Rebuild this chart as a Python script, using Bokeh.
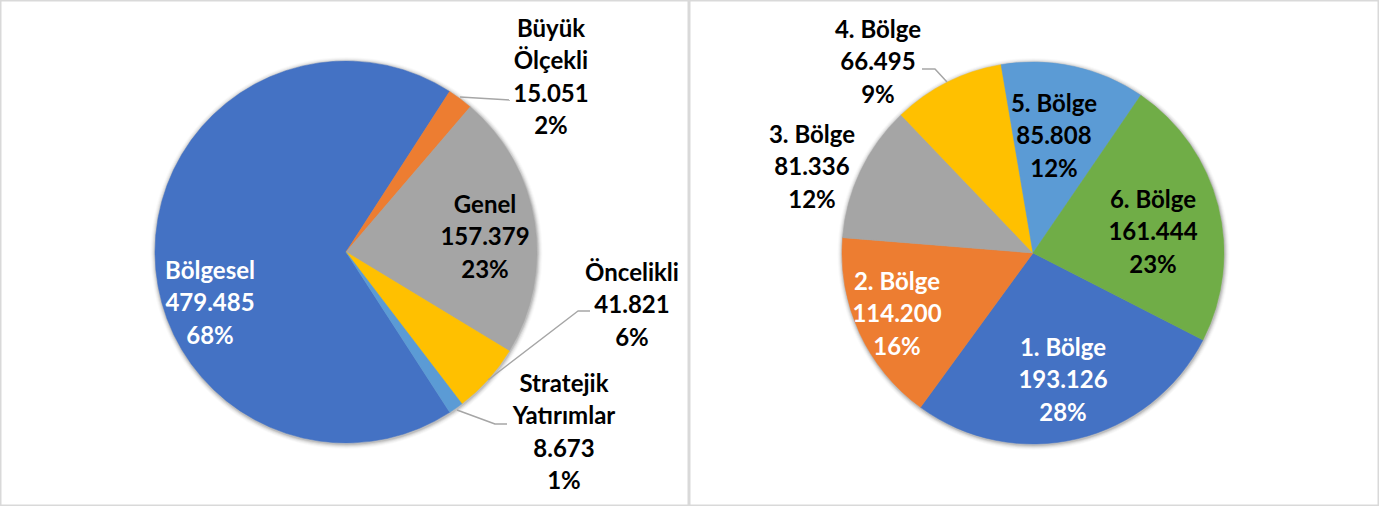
import math
from bokeh.plotting import figure
from bokeh.models import Range1d, ColumnDataSource
from bokeh.layouts import row
from bokeh.core.properties import value
from bokeh.embed import file_html
from bokeh.resources import INLINE

# ---------------- data ----------------
left_names = ["Bölgesel", "Büyük\nÖlçekli", "Genel", "Öncelikli", "Stratejik\nYatırımlar"]
left_values = [479485, 15051, 157379, 41821, 8673]
left_pcts = [68, 2, 23, 6, 1]

right_names = ["1. Bölge", "2. Bölge", "3. Bölge", "4. Bölge", "5. Bölge", "6. Bölge"]
right_values = [193126, 114200, 81336, 66495, 85808, 161444]
right_pcts = [28, 16, 12, 9, 12, 23]

# ---------------- styles / layout ----------------
left_colors = ["#4472C4", "#ED7D31", "#A5A5A5", "#FFC000", "#5B9BD5"]
right_colors = ["#4472C4", "#ED7D31", "#A5A5A5", "#FFC000", "#5B9BD5", "#70AD47"]
left_text_colors = ["white", "black", "black", "black", "black"]
right_text_colors = ["white", "white", "black", "black", "black", "black"]

# label anchor positions (reference pixel coords)
left_label_xy = [(210, 302), (551, 76), (485, 236), (632, 304), (564, 431)]
right_label_xy = [(1063, 379), (897, 313), (812, 166), (878, 61), (1054, 135), (1153, 231)]

left_leaders = [
    [(460, 97), (510, 100)],
    [(488, 380), (578, 311), (590, 311)],
    [(457, 410), (495, 424), (507, 424)],
]
right_leaders = [
    [(922, 69), (935, 69), (947, 82)],
]

H = 506
RADIUS = 191  # screen px
FONT = value("Lato")


def fmt(v):
    return f"{v:,}".replace(",", ".")


def make_pie(x0, x1, cx, cy, names, values, pcts, colors, tcolors, label_xy, leaders, first_angle):
    p = figure(width=int(x1 - x0), height=H, output_backend="svg", toolbar_location=None,
               x_range=Range1d(x0, x1), y_range=Range1d(-H - 0.5, -0.5),
               min_border=0)
    p.axis.visible = False
    p.xgrid.visible = False
    p.ygrid.visible = False
    p.outline_line_color = "#d9d9d9"
    p.outline_line_width = 2
    p.background_fill_color = "white"
    p.border_fill_color = "white"

    # soft shadow
    for i, a in enumerate([0.10, 0.07, 0.05, 0.03, 0.02]):
        p.scatter(x=[cx + 0.5], y=[-cy - 1.0], size=2 * (RADIUS + 1 + i), fill_color="black",
                  fill_alpha=a, line_color=None, marker="circle")

    total = float(sum(values))
    theta = first_angle
    starts, ends = [], []
    for v in values:
        span = v / total * 360.0
        t1, t2 = theta, theta + span
        # clockwise from top -> standard anticlockwise from +x
        starts.append(math.radians(90 - t2))
        ends.append(math.radians(90 - t1))
        theta = t2
    src = ColumnDataSource(dict(x=[cx] * len(values), y=[-cy] * len(values),
                                start=starts, end=ends, color=colors))
    p.wedge(x="x", y="y", radius=RADIUS, radius_units="screen", start_angle="start",
            end_angle="end", fill_color="color", line_color="color", line_width=0.5,
            direction="anticlock", source=src)

    for pts in leaders:
        p.line([q[0] for q in pts], [-q[1] for q in pts], line_color="#a6a6a6", line_width=1.5)

    labels = [f"{n}\n{fmt(v)}\n{pc}%" for n, v, pc in zip(names, values, pcts)]
    lsrc = ColumnDataSource(dict(x=[q[0] for q in label_xy], y=[-q[1] for q in label_xy],
                                 t=labels, c=tcolors))
    p.text(x="x", y="y", text="t", text_color="c", source=lsrc, text_font=FONT,
           text_font_style="bold", text_font_size="24px", text_align="center",
           text_baseline="middle", text_line_height=1.11)
    return p


left = make_pie(0.5, 689.5, 346, 252, left_names, left_values, left_pcts, left_colors,
                left_text_colors, left_label_xy, left_leaders, 147.1)
right = make_pie(689.5, 1379.5, 1033, 253, right_names, right_values, right_pcts, right_colors,
                 right_text_colors, right_label_xy, right_leaders, 117.1)

layout = row(left, right, spacing=0)
open("out.html", "w").write(file_html(layout, INLINE))
